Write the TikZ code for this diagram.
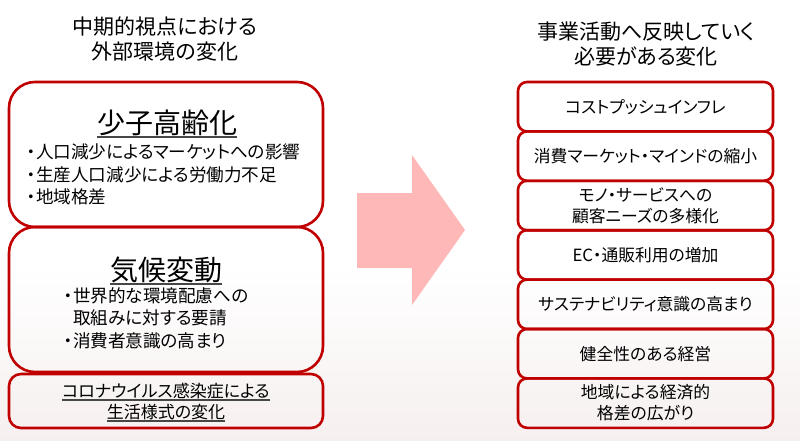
\documentclass[tikz,border=0pt]{standalone}
\usepackage{fontspec}
\setmainfont{Noto Sans CJK JP}[RawFeature=+palt]
\definecolor{boxred}{RGB}{192,0,0}
\definecolor{arrowpink}{RGB}{255,184,184}
\definecolor{bgpink}{RGB}{246,239,239}
\definecolor{ulgray}{RGB}{70,70,70}
\newcommand\myul[2][1.3pt]{\vtop{\hbox{#2}\kern0.3pt{\color{ulgray}\hrule height #1}}}
\tikzset{
  lbox/.style={draw=boxred, line width=2.6pt, minimum width=314pt, inner sep=0pt},
  rbox/.style={draw=boxred, line width=2.6pt, rounded corners=9pt, minimum width=255pt,
    minimum height=49.4pt, inner sep=0pt, align=center, font=\fontsize{16.8}{21}\selectfont},
  titletext/.style={align=center, font=\fontsize{21}{25}\selectfont, inner sep=0pt},
  headtext/.style={font=\fontsize{28}{32}\selectfont, inner sep=0pt},
  bullettext/.style={align=left, font=\fontsize{17.6}{22.5}\selectfont, inner sep=0pt},
}
\begin{document}
\begin{tikzpicture}[x=1pt,y=-1pt]
\useasboundingbox (0,0) rectangle (800,441);
\shade[top color=white, bottom color=bgpink] (0,268) rectangle (800,441);
% titles
\node[titletext] (lt) at (165,39.5) {中期的視点における\\外部環境の変化};
\node[titletext] (rt) at (646,44) {事業活動へ反映していく\\必要がある変化};
% left boxes
\node[lbox, rounded corners=26pt, minimum height=145pt] (b1) at (166,154.5) {};
\node[lbox, rounded corners=26pt, minimum height=145pt] (b2) at (166,299.5) {};
\node[lbox, rounded corners=12pt, minimum height=54pt] (b3) at (166,401) {};
\node[headtext] (h1) at (167,124) {\myul[2pt]{少子高齢化}};
\node[bullettext, anchor=west] (t1) at (27,174.5) {・人口減少によるマーケットへの影響\\・生産人口減少による労働力不足\\・地域格差};
\node[headtext] (h2) at (166,271) {\myul[2pt]{気候変動}};
\node[bullettext, anchor=west] (t2) at (64,318) {・世界的な環境配慮への\\\phantom{・}取組みに対する要請\\・消費者意識の高まり};
\node[align=center, font=\fontsize{17}{21}\selectfont, inner sep=0pt] (t3) at (166,402.5)
  {\myul{コロナウイルス感染症による}\\\myul{生活様式の変化}};
% arrow
\fill[arrowpink] (357,193) -- (412,193) -- (412,155) -- (465,230) -- (412,305) -- (412,268) -- (357,268) -- cycle;
% right boxes
\node[rbox] (r1) at (645.5,106.7) {コストプッシュインフレ};
\node[rbox] (r2) at (645.5,156.1) {消費マーケット・マインドの縮小};
\node[rbox] (r3) at (645.5,205.5) {モノ・サービスへの\\顧客ニーズの多様化};
\node[rbox] (r4) at (645.5,254.9) {EC・通販利用の増加};
\node[rbox] (r5) at (645.5,304.3) {サステナビリティ意識の高まり};
\node[rbox] (r6) at (645.5,353.7) {健全性のある経営};
\node[rbox] (r7) at (645.5,403.1) {地域による経済的\\格差の広がり};
\end{tikzpicture}
\end{document}
